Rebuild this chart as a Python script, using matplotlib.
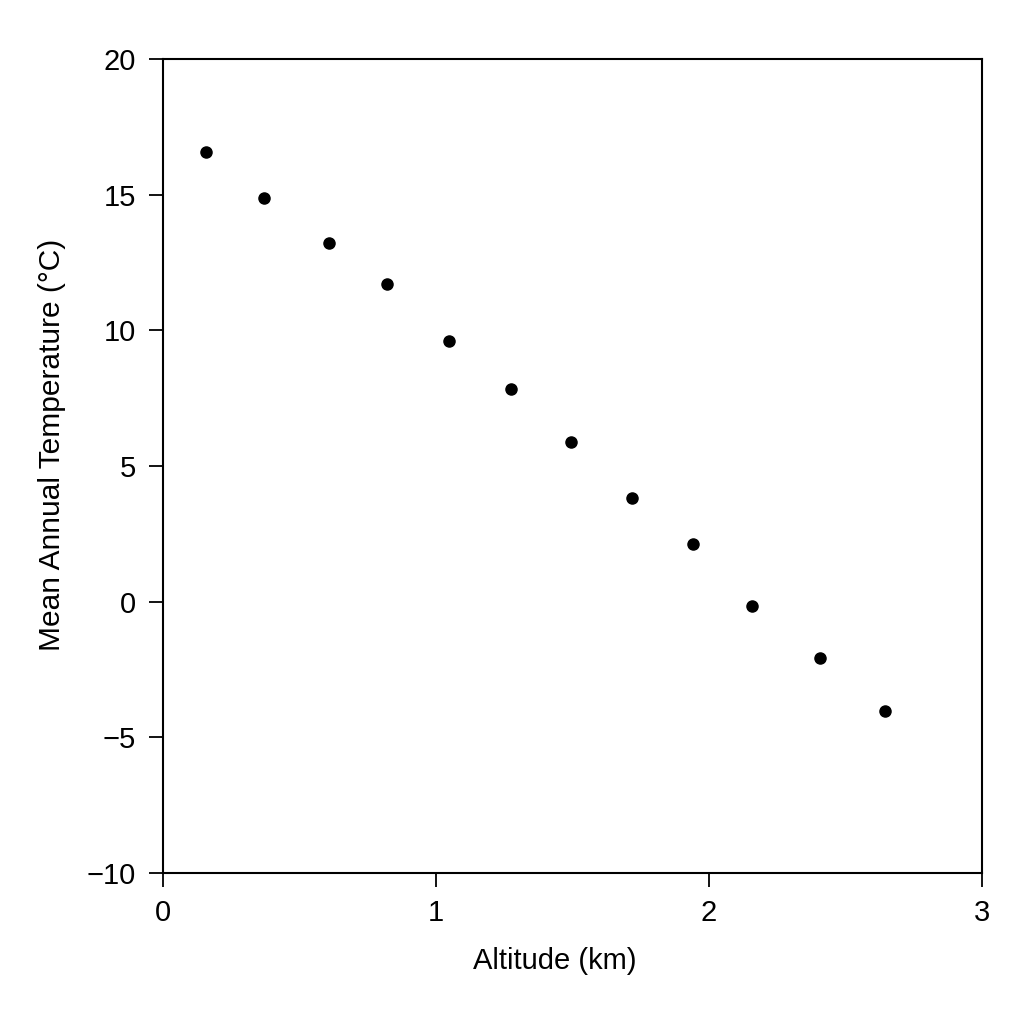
import matplotlib
matplotlib.use("Agg")
import matplotlib.pyplot as plt

altitude_km = [0.157, 0.37, 0.608, 0.82, 1.048, 1.275, 1.495, 1.72, 1.94, 2.157, 2.407, 2.645]
temperature_c = [16.57, 14.87, 13.21, 11.70, 9.60, 7.83, 5.88, 3.83, 2.13, -0.18, -2.06, -4.04]
x_ticks = [0, 1, 2, 3]
y_ticks = [-10, -5, 0, 5, 10, 15, 20]

plt.rcParams['font.family'] = ['Liberation Sans', 'DejaVu Sans']

fig = plt.figure(figsize=(10.24, 10.24), dpi=100)
ax = fig.add_axes([0.159, 0.1475, 0.8, 0.795])
ax.scatter(altitude_km, temperature_c, s=64, color='black', zorder=3)
ax.set_xlim(0, 3)
ax.set_ylim(-10, 20)
ax.set_xticks(x_ticks)
ax.set_yticks(y_ticks)
ax.tick_params(direction='out', length=10, width=1.3, labelsize=21)
ax.tick_params(axis='x', pad=8.5)
ax.tick_params(axis='y', pad=9.5)
for s in ax.spines.values():
    s.set_linewidth(1.5)
ax.set_xlabel('Altitude (km)', fontsize=21, labelpad=15)
ax.xaxis.label.set_x(0.4786)
ax.set_ylabel('Mean Annual Temperature (°C)', fontsize=21.5)
ax.yaxis.set_label_coords(-0.1184, 0.5264)
fig.savefig('out.png', dpi=100)
